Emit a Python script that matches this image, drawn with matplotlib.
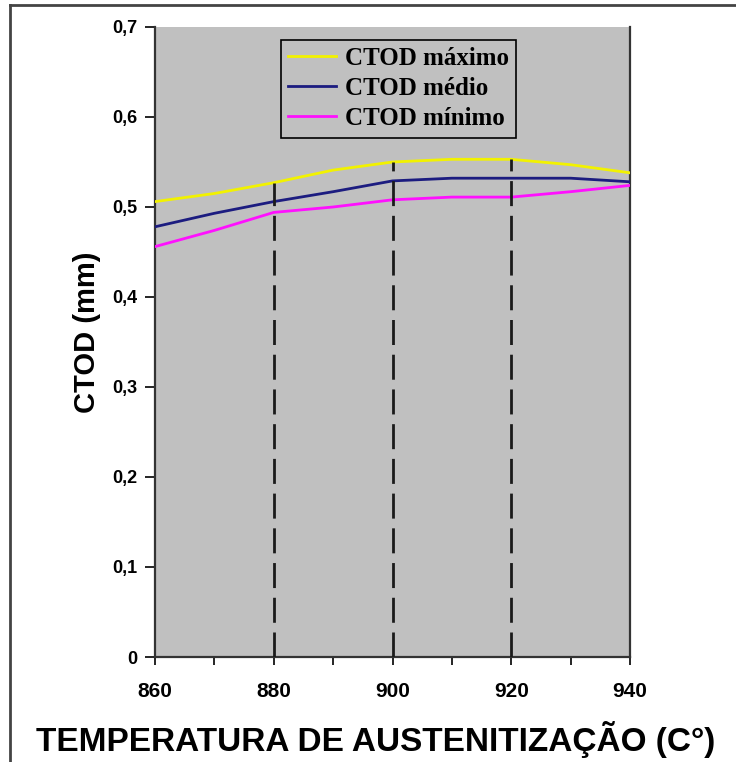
import matplotlib
matplotlib.use("Agg")
import matplotlib.pyplot as plt
from matplotlib.lines import Line2D
import numpy as np

# values
temps = [860, 870, 880, 890, 900, 910, 920, 930, 940]
ctod_max = [0.506, 0.515, 0.527, 0.541, 0.550, 0.553, 0.553, 0.547, 0.538]
ctod_med = [0.478, 0.493, 0.506, 0.517, 0.529, 0.532, 0.532, 0.532, 0.528]
ctod_min = [0.456, 0.474, 0.494, 0.500, 0.508, 0.511, 0.511, 0.517, 0.524]
marked_temps = [880, 900, 920]

series_labels = ["CTOD máximo", "CTOD médio", "CTOD mínimo"]
y_ticks = [0, 0.1, 0.2, 0.3, 0.4, 0.5, 0.6, 0.7]
y_tick_labels = ["0", "0,1", "0,2", "0,3", "0,4", "0,5", "0,6", "0,7"]
x_ticks = [860, 880, 900, 920, 940]

fig = plt.figure(figsize=(7.36, 7.62), dpi=100)
ax = fig.add_axes([155 / 736, 105 / 762, 475 / 736, 630 / 762])
ax.set_facecolor("#c0c0c0")

colors = ["#f2f200", "#1c1c80", "#ff10ff"]
for vals, lab, c in zip([ctod_max, ctod_med, ctod_min], series_labels, colors):
    ax.plot(temps, vals, color=c, lw=2.0, label=lab, zorder=3)

# dashed markers from zero up to the max curve
for t in marked_temps:
    top = ctod_max[temps.index(t)]
    ax.plot([t, t], [0, top], color="#1a1a1a", lw=2.0, dashes=(9, 3.5), zorder=4)

ax.set_xlim(860, 940)
ax.set_ylim(0, 0.7)
ax.set_xticks(x_ticks)
ax.set_xticks(np.arange(860, 941, 10), minor=True)
ax.set_yticks(y_ticks)
ax.set_yticklabels(y_tick_labels)
ax.tick_params(axis="y", direction="out", length=7, width=1.2, labelsize=13, pad=6)
ax.tick_params(axis="x", which="both", direction="out", length=6, width=1.2,
               labelsize=15, pad=12)
for lbl in ax.get_xticklabels() + ax.get_yticklabels():
    lbl.set_fontweight("bold")
    lbl.set_family("Liberation Sans")

ax.spines["top"].set_visible(False)
for s in ["left", "right", "bottom"]:
    ax.spines[s].set_linewidth(1.6)
    ax.spines[s].set_color("#333333")

ax.set_ylabel("CTOD (mm)", fontsize=21, fontweight="bold",
              family="Liberation Sans")
ax.yaxis.set_label_coords(-54 / 475, 0.515)
ax.set_xlabel("TEMPERATURA DE AUSTENITIZAÇÃO (C°)", fontsize=24,
              fontweight="bold", family="Liberation Sans")
ax.xaxis.set_label_coords((376 - 155) / 475, -64 / 630)

leg = ax.legend(loc="upper left", bbox_to_anchor=(0.265, 0.98),
                prop={"family": "Liberation Serif", "weight": "bold", "size": 18},
                frameon=True, fancybox=False, facecolor="#c0c0c0",
                edgecolor="black", framealpha=1, handlelength=1.9,
                handletextpad=0.35, labelspacing=0.28, borderpad=0.3,
                borderaxespad=0)
leg.get_frame().set_linewidth(1.2)

# outer frame (top and left edges visible)
fig.add_artist(Line2D([10 / 736, 1], [1 - 5 / 762, 1 - 5 / 762],
                      color="#444444", lw=2, transform=fig.transFigure))
fig.add_artist(Line2D([10 / 736, 10 / 736], [0, 1 - 5 / 762],
                      color="#444444", lw=2, transform=fig.transFigure))

fig.savefig("out.png", dpi=100)
